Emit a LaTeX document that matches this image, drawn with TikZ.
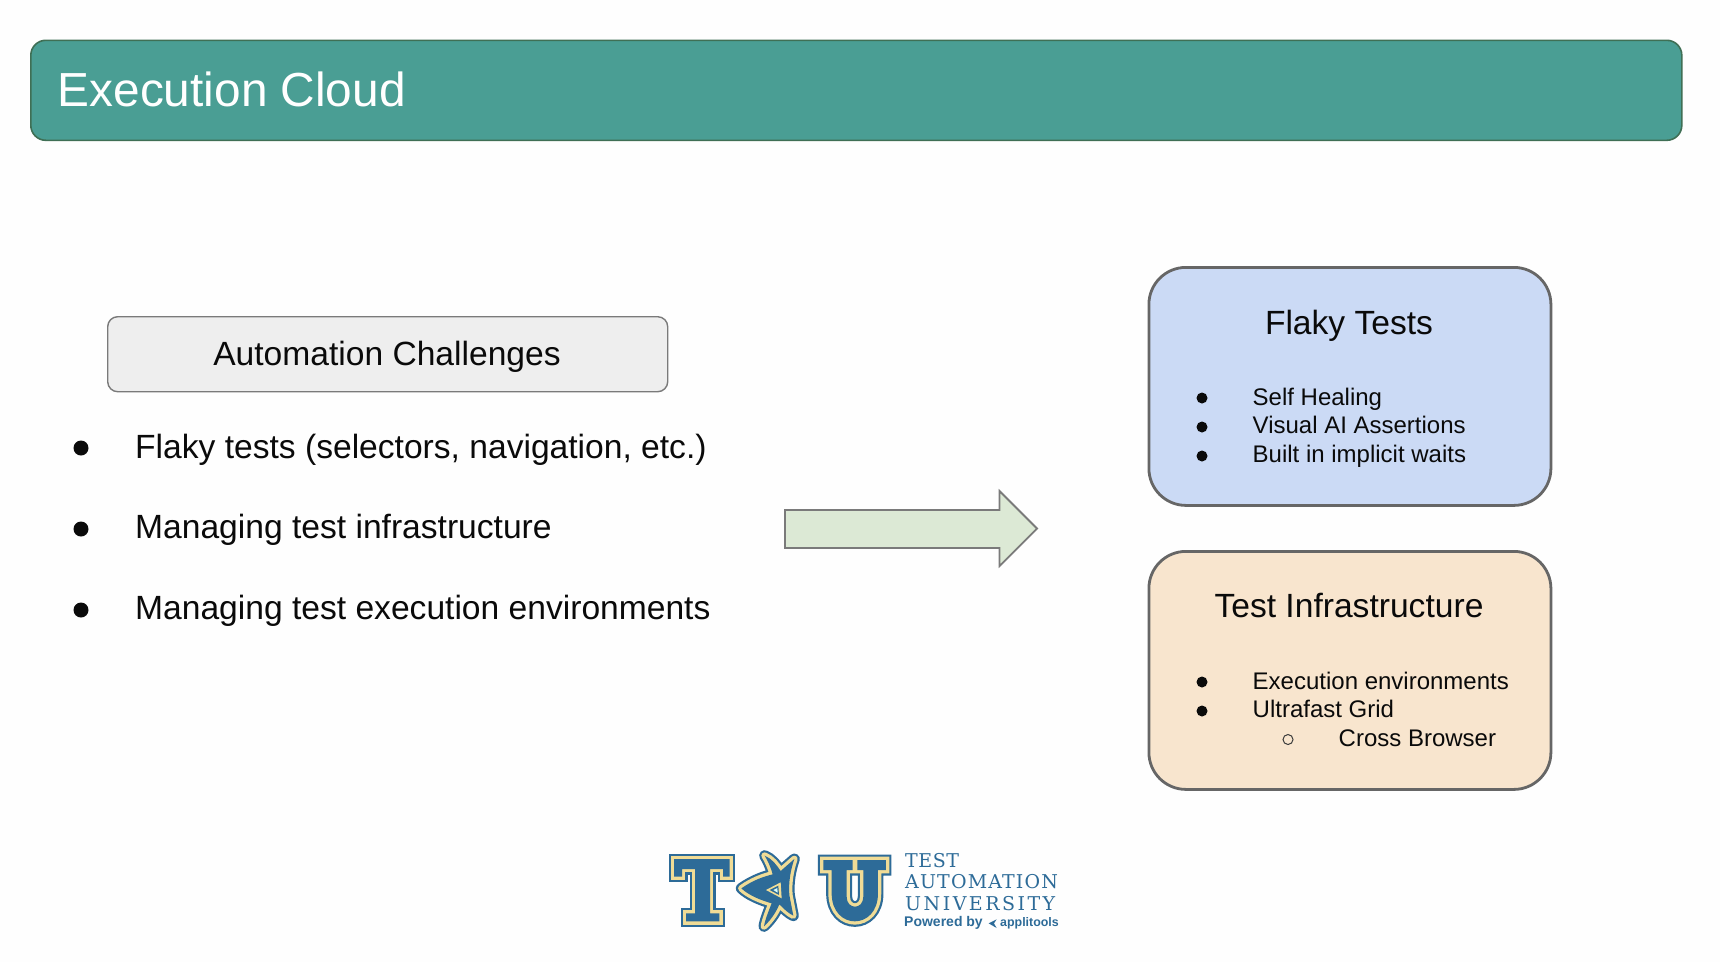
\documentclass[tikz,border=0pt]{standalone}
\usepackage{fontspec}
\setmainfont{Liberation Sans}
\newfontfamily\djs{DejaVu Serif}
\definecolor{pagebg}{HTML}{FEFEFE}
\definecolor{teal}{HTML}{4A9E94}
\definecolor{tealedge}{HTML}{3F6F55}
\definecolor{greybox}{HTML}{EEEEEE}
\definecolor{greyedge}{HTML}{7A7A7A}
\definecolor{bluebox}{HTML}{CBDAF5}
\definecolor{orangebox}{HTML}{F8E5CE}
\definecolor{boxedge}{HTML}{666666}
\definecolor{arrowfill}{HTML}{DCE9D5}
\definecolor{logoblue}{HTML}{2D6B98}
\definecolor{logocream}{HTML}{F0DC96}
\definecolor{ink}{HTML}{0A0A0A}
\tikzset{
 fs/.style={font=\fontsize{#1}{#1}\selectfont},
 lbl/.style={anchor=base west,inner sep=0pt,text=ink},
 clbl/.style={anchor=base,inner sep=0pt,text=ink},
 cardbox/.style={draw=boxedge,line width=2.8pt,rounded corners=37pt,minimum width=402pt,minimum height=238pt,inner sep=0pt,anchor=north west},
 dotfull/.style={circle,fill=ink,inner sep=0pt,minimum size=#1},
 dothollow/.style={circle,draw=ink!80,line width=1pt,inner sep=0pt,minimum size=#1},
 logoshape/.style={line join=miter,miter limit=3,fill=logoblue,
   preaction={draw=logoblue,line width=11pt},
   preaction={draw=logocream,line width=6.6pt}},
 logostar/.style={fill=logoblue,
   preaction={draw=logoblue,line width=11pt,line join=round},
   preaction={draw=logocream,line width=6.6pt,line join=round}},
 logotxt/.style={anchor=base west,inner sep=0pt,text=logoblue},
}
\begin{document}
\begin{tikzpicture}[x=1pt,y=-1pt]
\useasboundingbox (0,0) rectangle (1720,962);
\fill[pagebg] (0,0) rectangle (1720,962);
% header
\node[draw=tealedge,fill=teal,line width=1.6pt,rounded corners=15pt,minimum width=1651pt,minimum height=100pt,inner sep=0pt,anchor=north west] (header) at (30,39.5) {};
\node[lbl,text=white,fs=47.8] (title) at (57.5,106) {Execution Cloud};
% left
\node[draw=greyedge,fill=greybox,line width=1.4pt,rounded corners=10pt,minimum width=560pt,minimum height=75pt,inner sep=0pt,anchor=north west] (challenges) at (107,316) {};
\node[clbl,fs=33.6] (challengestxt) at (387,365) {Automation Challenges};
\node[dotfull=15pt] (b1) at (81,448) {};
\node[dotfull=15pt] (b2) at (81,529) {};
\node[dotfull=15pt] (b3) at (81,610) {};
\node[lbl,fs=33.6] (l1) at (135,458) {Flaky tests (selectors, navigation, etc.)};
\node[lbl,fs=33.6] (l2) at (135,538) {Managing test infrastructure};
\node[lbl,fs=33.6] (l3) at (135,619) {Managing test execution environments};
% arrow
\path[draw=greyedge,fill=arrowfill,line width=1.8pt,line join=miter] (785,510) -- (999.5,510) -- (999.5,491) -- (1037,528.5) -- (999.5,566) -- (999.5,548) -- (785,548) -- cycle;
% cards
\node[cardbox,fill=bluebox] (flaky) at (1147.5,266) {};
\node[clbl,fs=33.6] (flakyt) at (1349,334) {Flaky Tests};
\node[dotfull=11pt] (f1) at (1202,398) {};
\node[dotfull=11pt] (f2) at (1202,427) {};
\node[dotfull=11pt] (f3) at (1202,456) {};
\node[lbl,fs=24] (f1t) at (1252.5,405) {Self Healing};
\node[lbl,fs=24] (f2t) at (1252.5,433.5) {Visual AI Assertions};
\node[lbl,fs=24] (f3t) at (1252.5,462.5) {Built in implicit waits};
\node[cardbox,fill=orangebox] (infra) at (1147.5,550) {};
\node[clbl,fs=33.6] (infrat) at (1349,617) {Test Infrastructure};
\node[dotfull=11pt] (i1) at (1202,682) {};
\node[dotfull=11pt] (i2) at (1202,711) {};
\node[dothollow=10pt] (i3) at (1288,739.5) {};
\node[lbl,fs=24] (i1t) at (1252.5,689) {Execution environments};
\node[lbl,fs=24] (i2t) at (1252.5,717) {Ultrafast Grid};
\node[lbl,fs=24] (i3t) at (1338.5,746) {Cross Browser};
% logo
\begin{scope}[shift={(660,845)},x=0.3333pt,y=-0.3333pt]
\path[logoshape] (42,42)--(209,42)--(209,95)--(189,95)--(189,72)--(150,72)--(150,205)--(178,205)--(178,229)--(78,229)--(78,205)--(105,205)--(105,72)--(66,72)--(66,95)--(42,95)--cycle;
\path[logostar] (244,130) .. controls (280,105) and (310,95) .. (338,88) .. controls (332,65) and (322,45) .. (314,32) .. controls (335,40) and (350,60) .. (362,78) -- (403,42) .. controls (392,75) and (385,110) .. (388,150) -- (400,212) .. controls (385,205) and (370,190) .. (358,178) .. controls (345,210) and (325,232) .. (312,244) .. controls (315,225) and (325,200) .. (335,175) .. controls (300,165) and (265,150) .. (244,130) -- cycle;
\path[fill=logocream] (318,135)--(362,112)--(365,160)--cycle;
\path[fill=logoblue] (329,135)--(355,122)--(357,150)--cycle;
\path[fill=logocream!30!cyan!20!white] (340,135)--(352,129)--(353,143)--cycle;
\end{scope}
\begin{scope}[shift={(650,830)},x=0.3333pt,y=-0.3333pt]
\path[logoshape] (520,90)--(608,90)--(608,120)--(590,120)--(590,200) .. controls (590,240) and (640,240) .. (640,200)--(640,120)--(622,120)--(622,90)--(708,90)--(708,120)--(684,120)--(684,190) .. controls (684,302) and (545,302) .. (545,190)--(545,120)--(520,120)--cycle;
\path[fill=logoblue] (1016,280)--(1040,268)--(1032,280)--(1040,294)--cycle;
\end{scope}
\node[logotxt,font=\fontsize{19}{19}\djs\selectfont\addfontfeature{LetterSpace=3}] (tau1) at (905,867) {TEST};
\node[logotxt,font=\fontsize{19}{19}\djs\selectfont\addfontfeature{LetterSpace=6}] (tau2) at (905,888.5) {AUTOMATION};
\node[logotxt,font=\fontsize{19}{19}\djs\selectfont\addfontfeature{LetterSpace=13}] (tau3) at (905,910) {UNIVERSITY};
\node[logotxt,font=\fontsize{14}{14}\selectfont\bfseries] (tau4) at (904,926) {Powered by};
\node[logotxt,font=\fontsize{12.4}{12.4}\selectfont\bfseries] (tau5) at (1000,926) {applitools};
\end{tikzpicture}
\end{document}
